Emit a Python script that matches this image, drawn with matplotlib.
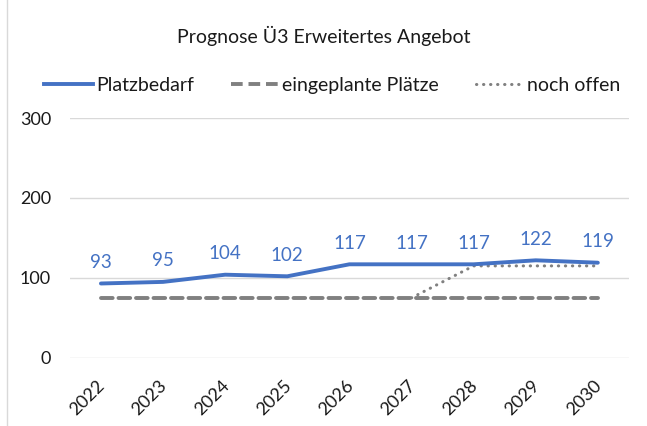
import numpy as np
import matplotlib.pyplot as plt
import matplotlib.transforms as mtransforms
from matplotlib.lines import Line2D

years = ['2022', '2023', '2024', '2025', '2026', '2027', '2028', '2029', '2030']
platzbedarf = [93, 95, 104, 102, 117, 117, 117, 122, 119]
eingeplant = [75, 75, 75, 75, 75, 75, 75, 75, 75]
# noch offen only from 2027 on
offen_years = ['2027', '2028', '2029', '2030']
offen = [75, 115, 115, 115]

blue = '#4472C4'
gray = '#808080'

plt.rcParams['font.family'] = ['Lato', 'DejaVu Sans']

fig = plt.figure(figsize=(6.47, 4.26), dpi=100)
ax = fig.add_axes([0.108, 0.160, 0.864, 0.563])

x = np.arange(len(years))
xo = [years.index(y) for y in offen_years]

ax.plot(x, platzbedarf, color=blue, lw=2.8, solid_capstyle='round', zorder=3)
ax.plot(x, eingeplant, color=gray, lw=2.8, dashes=(3, 1.5), dash_capstyle='round', zorder=2)
ax.plot(xo, offen, color=gray, lw=2.2, dashes=(0.1, 2.2), dash_capstyle='round', zorder=2)

for xi, v in zip(x, platzbedarf):
    ax.annotate(str(v), (xi, v), xytext=(0, 9), textcoords='offset points',
                ha='center', va='bottom', color=blue, fontsize=13.5)

ax.set_xlim(-0.5, len(years) - 0.5)
ax.set_ylim(0, 300)
ax.set_yticks([0, 100, 200, 300])
ax.set_xticks(x)
ax.set_xticklabels(years, rotation=45, ha='right', rotation_mode='anchor')
ax.tick_params(length=0, labelsize=13, colors='#1a1a1a')
ax.tick_params(axis='x', pad=14)
ax.tick_params(axis='y', pad=13.5)
shift = mtransforms.ScaledTranslation(-3 / 72, 0, fig.dpi_scale_trans)
for lab in ax.get_xticklabels():
    lab.set_transform(lab.get_transform() + shift)
ax.grid(axis='y', color='#D9D9D9', lw=1)
for s in ax.spines.values():
    s.set_visible(False)
ax.set_axisbelow(True)

fig.text(0.5, 0.915, 'Prognose Ü3 Erweitertes Angebot', ha='center', va='center',
         fontsize=14, color='#1a1a1a')

handles = [Line2D([], [], color=blue, lw=2.8),
           Line2D([], [], color=gray, lw=2.8, dashes=(3, 1.5)),
           Line2D([], [], color=gray, lw=2.2, dashes=(0.1, 2.2), dash_capstyle='round')]
fig.legend(handles, ['Platzbedarf', 'eingeplante Plätze', 'noch offen'],
           loc='center', bbox_to_anchor=(0.514, 0.800), ncol=3, frameon=False,
           fontsize=14, handlelength=2.5, handletextpad=0.15, columnspacing=1.9,
           labelcolor='#1a1a1a')

fig.add_artist(Line2D([0.011, 0.011], [0, 1], color='#D9D9D9', lw=1,
                      transform=fig.transFigure))

fig.savefig('out.png', dpi=100)
